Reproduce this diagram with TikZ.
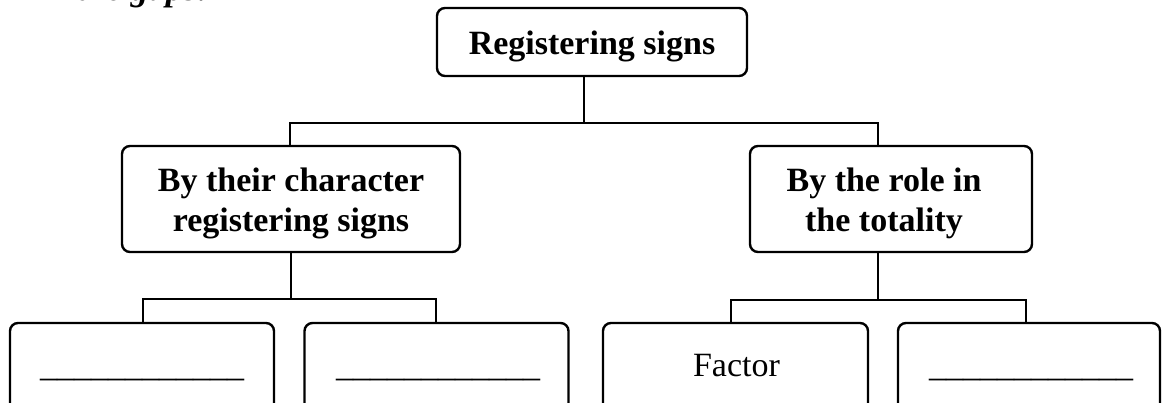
\documentclass[tikz,border=0pt]{standalone}
\usepackage{fontspec}
\setmainfont{Liberation Serif}
\newcommand{\gapline}{\_\_\_\_\_\_\_\_\_\_\_\_}
\begin{document}
\begin{tikzpicture}[x=1pt,y=-1pt,
  box/.style={draw=black, line width=2.4pt, rounded corners=8pt, inner sep=0pt},
  conn/.style={draw=black, line width=2.2pt},
  txt/.style={font=\fontsize{34}{40}\selectfont, inner sep=0pt},
  btxt/.style={font=\fontsize{34}{40}\selectfont\bfseries, inner sep=0pt}]
\useasboundingbox (0,0) rectangle (1164,403);
\clip (0,0) rectangle (1164,403);
\fill[white] (0,0) rectangle (1164,403);

% cut-off heading
\node[inner sep=0pt, font=\fontsize{35}{40}\selectfont\bfseries\itshape, anchor=base west] (head) at (-22,0.5) {Fill in the gaps:};

% boxes
\node[box, minimum width=310pt, minimum height=68pt] (top) at (592,42) {};
\node[btxt, anchor=base] (toptxt) at (592,55) {Registering signs};

\node[box, minimum width=338pt, minimum height=106pt] (ml) at (291,199) {};
\node[btxt, anchor=base] (ml1) at (291,192) {By their character};
\node[btxt, anchor=base] (ml2) at (291,232) {registering signs};

\node[box, minimum width=282pt, minimum height=106pt] (mr) at (891,199) {};
\node[btxt, anchor=base] (mr1) at (884,192) {By the role in};
\node[btxt, anchor=base] (mr2) at (884,232) {the totality};

\node[box, minimum width=264pt, minimum height=90pt] (b1) at (142,368) {};
\node[box, minimum width=264pt, minimum height=90pt] (b2) at (436.5,368) {};
\node[box, minimum width=265pt, minimum height=90pt] (b3) at (735.5,368) {};
\node[box, minimum width=262pt, minimum height=90pt] (b4) at (1029,368) {};

\node[txt, anchor=base] (b1t) at (142,376) {\gapline};
\node[txt, anchor=base] (b2t) at (438,376) {\gapline};
\node[txt, anchor=base] (b3t) at (736.5,376) {Factor};
\node[txt, anchor=base] (b4t) at (1031,376) {\gapline};

% junction coordinates
\coordinate (j0) at (584,123);
\coordinate (L1) at (290,123);
\coordinate (R1) at (878,123);
\coordinate (L2) at (291,299);
\coordinate (R2) at (878,300);
\coordinate (B1) at (143,299);
\coordinate (B2) at (436,299);
\coordinate (B3) at (731,300);
\coordinate (B4) at (1026,300);

% connectors
\draw[conn] (top.south -| j0) -- (j0);
\draw[conn] (ml.north -| L1) |- (R1) -- (mr.north -| R1);
\draw[conn] (ml.south -| L2) -- (L2);
\draw[conn] (mr.south -| R2) -- (R2);
\draw[conn] (b1.north -| B1) |- (B2) -- (b2.north -| B2);
\draw[conn] (b3.north -| B3) |- (B4) -- (b4.north -| B4);
\end{tikzpicture}
\end{document}
